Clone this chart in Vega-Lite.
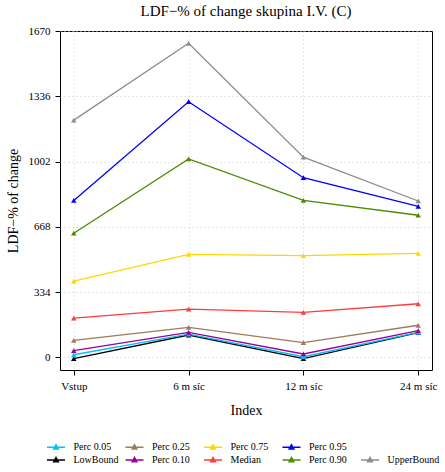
{
  "$schema": "https://vega.github.io/schema/vega-lite/v6.json",
  "width": 372,
  "height": 339,
  "autosize": {"type": "none"},
  "padding": {"left": 60, "top": 31, "right": 13, "bottom": 102},
  "background": "white",
  "title": {"text": "LDF−% of change skupina I.V. (C)", "font": "Liberation Serif", "fontSize": 15, "fontWeight": "normal", "color": "black", "offset": 6, "anchor": "middle", "frame": "group"},
  "config": {
    "font": "Liberation Serif",
    "view": {"stroke": "black", "strokeWidth": 1},
    "style": {"guide-label": {"font": "Liberation Serif"}, "guide-title": {"font": "Liberation Serif"}},
    "axis": {"labelFont": "Liberation Serif", "titleFont": "Liberation Serif", "labelFontSize": 11, "titleFontSize": 14, "titleFontWeight": "normal", "labelColor": "black", "titleColor": "black", "tickColor": "black", "tickSize": 5, "domain": false, "gridColor": "#cfcfcf", "gridDash": [1, 3], "gridWidth": 1},
    "legend": {"labelFont": "Liberation Serif", "labelFontSize": 10, "labelColor": "black"}
  },
  "data": {"values": [
    {"s": "LowBound", "i": 1, "t": "Vstup", "v": -7}, {"s": "LowBound", "i": 2, "t": "6 m síc", "v": 114}, {"s": "LowBound", "i": 3, "t": "12 m síc", "v": -7}, {"s": "LowBound", "i": 4, "t": "24 m síc", "v": 126},
    {"s": "Perc 0.05", "i": 1, "t": "Vstup", "v": 13}, {"s": "Perc 0.05", "i": 2, "t": "6 m síc", "v": 119}, {"s": "Perc 0.05", "i": 3, "t": "12 m síc", "v": 3}, {"s": "Perc 0.05", "i": 4, "t": "24 m síc", "v": 128},
    {"s": "Perc 0.10", "i": 1, "t": "Vstup", "v": 34}, {"s": "Perc 0.10", "i": 2, "t": "6 m síc", "v": 128}, {"s": "Perc 0.10", "i": 3, "t": "12 m síc", "v": 17}, {"s": "Perc 0.10", "i": 4, "t": "24 m síc", "v": 136},
    {"s": "Perc 0.25", "i": 1, "t": "Vstup", "v": 87}, {"s": "Perc 0.25", "i": 2, "t": "6 m síc", "v": 153}, {"s": "Perc 0.25", "i": 3, "t": "12 m síc", "v": 75}, {"s": "Perc 0.25", "i": 4, "t": "24 m síc", "v": 164},
    {"s": "Median", "i": 1, "t": "Vstup", "v": 200}, {"s": "Median", "i": 2, "t": "6 m síc", "v": 247}, {"s": "Median", "i": 3, "t": "12 m síc", "v": 230}, {"s": "Median", "i": 4, "t": "24 m síc", "v": 274},
    {"s": "Perc 0.75", "i": 1, "t": "Vstup", "v": 390}, {"s": "Perc 0.75", "i": 2, "t": "6 m síc", "v": 527}, {"s": "Perc 0.75", "i": 3, "t": "12 m síc", "v": 520}, {"s": "Perc 0.75", "i": 4, "t": "24 m síc", "v": 532},
    {"s": "Perc 0.90", "i": 1, "t": "Vstup", "v": 635}, {"s": "Perc 0.90", "i": 2, "t": "6 m síc", "v": 1015}, {"s": "Perc 0.90", "i": 3, "t": "12 m síc", "v": 803}, {"s": "Perc 0.90", "i": 4, "t": "24 m síc", "v": 727},
    {"s": "Perc 0.95", "i": 1, "t": "Vstup", "v": 803}, {"s": "Perc 0.95", "i": 2, "t": "6 m síc", "v": 1308}, {"s": "Perc 0.95", "i": 3, "t": "12 m síc", "v": 919}, {"s": "Perc 0.95", "i": 4, "t": "24 m síc", "v": 773},
    {"s": "UpperBound", "i": 1, "t": "Vstup", "v": 1214}, {"s": "UpperBound", "i": 2, "t": "6 m síc", "v": 1607}, {"s": "UpperBound", "i": 3, "t": "12 m síc", "v": 1024}, {"s": "UpperBound", "i": 4, "t": "24 m síc", "v": 800}
  ]},
  "mark": {"type": "line", "strokeWidth": 1.3, "point": {"shape": "triangle-up", "filled": true, "size": 30, "opacity": 1}},
  "encoding": {
    "x": {"field": "t", "type": "nominal", "sort": ["Vstup", "6 m síc", "12 m síc", "24 m síc"],
      "scale": {"type": "point", "padding": 0.12},
      "axis": {"title": "Index", "labelAngle": 0, "labelPadding": 5, "titlePadding": 12, "grid": true, "labelFont": "Liberation Serif", "titleFont": "Liberation Serif", "labelFontSize": 11, "titleFontSize": 14}},
    "y": {"field": "v", "type": "quantitative",
      "scale": {"domain": [-65, 1670], "nice": false, "zero": false},
      "axis": {"title": "LDF−% of change", "values": [0, 334, 668, 1002, 1336, 1670], "format": "d", "labelPadding": 5, "titlePadding": 8, "grid": true, "labelFont": "Liberation Serif", "titleFont": "Liberation Serif", "labelFontSize": 11, "titleFontSize": 14}},
    "color": {"field": "s", "type": "nominal",
      "scale": {
        "domain": ["Perc 0.05", "Perc 0.25", "Perc 0.75", "Perc 0.95", "zz", "LowBound", "Perc 0.10", "Median", "Perc 0.90", "UpperBound"],
        "range": ["#00bfff", "#9c7c5c", "#ffd700", "#0000ff", "transparent", "#000000", "#990099", "#ff3c3c", "#4a8c00", "#8c8c8c"]},
      "legend": {"orient": "none", "legendX": -9.5, "legendY": 410.5, "columns": 5, "direction": "horizontal", "gridAlign": "all", "title": null,
        "labelFont": "Liberation Serif", "labelFontSize": 10,
        "symbolType": "M-2,0L2,0M-0.55,0.4L0,-0.6L0.55,0.4Z", "symbolSize": 81, "symbolStrokeWidth": 1.3, "labelOffset": 12, "columnPadding": -3.5, "rowPadding": 2, "padding": 0,
        "labelExpr": "datum.label == 'zz' ? '' : datum.label",
        "encode": {"symbols": {"update": {"fill": {"scale": "color", "field": "value"}, "stroke": {"scale": "color", "field": "value"}}}}}
    },
    "order": {"field": "i"}
  }
}
